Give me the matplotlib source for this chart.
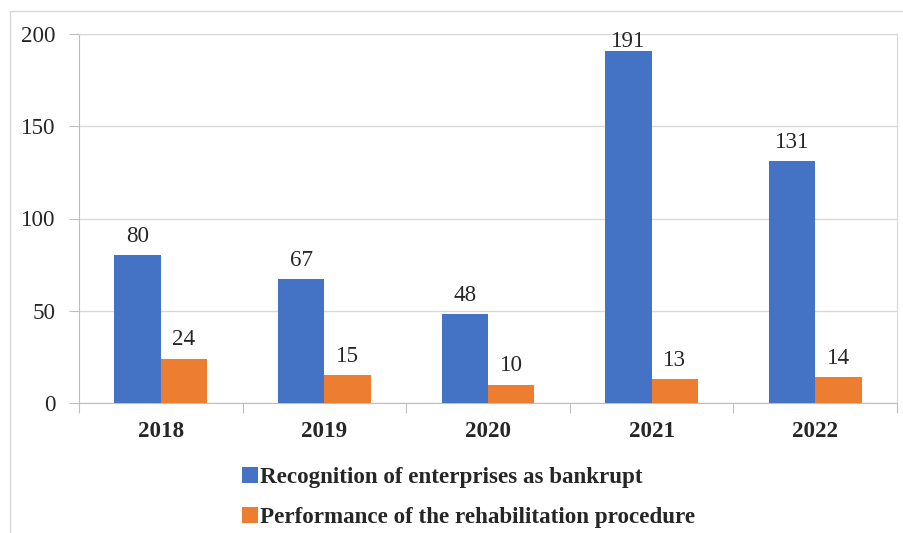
import matplotlib
matplotlib.use("Agg")
import matplotlib.pyplot as plt
from matplotlib.patches import Rectangle
import numpy as np

years = ["2018", "2019", "2020", "2021", "2022"]
bankrupt = [80, 67, 48, 191, 131]
rehab = [24, 15, 10, 13, 14]
labels = ["Recognition of enterprises as bankrupt",
          "Performance of the rehabilitation procedure"]

plt.rcParams['font.family'] = ['Liberation Serif', 'DejaVu Serif']
FS = 16.6

fig = plt.figure(figsize=(9.04, 5.33), dpi=100)
ax = fig.add_axes([79 / 904, 1 - 403 / 533, (897 - 79) / 904, (403 - 34) / 533])

# outer chart frame (cropped at right/bottom in the original)
fig.patches.append(Rectangle((10 / 904, -0.1), 2, 1 - 11 / 533 + 0.1,
                             transform=fig.transFigure, fill=False,
                             edgecolor="#d9d9d9", linewidth=1))

x = np.arange(len(years))
w = 0.284
b1 = ax.bar(x - w / 2, bankrupt, w, color="#4472c4", label=labels[0], zorder=3)
b2 = ax.bar(x + w / 2, rehab, w, color="#ed7d31", label=labels[1], zorder=3)

ymax = 200
for bars in (b1, b2):
    for r in bars:
        v = r.get_height()
        cx = r.get_x() + r.get_width() / 2
        if v > 180:
            # label kept inside the plot area, like Excel does
            ax.annotate(str(int(v)), (cx, ymax), xytext=(0, 2), textcoords="offset points",
                        ha="center", va="top", fontsize=FS, color="#262626", zorder=4)
        else:
            ax.annotate(str(int(v)), (cx, v), xytext=(0, 6), textcoords="offset points",
                        ha="center", va="bottom", fontsize=FS, color="#262626", zorder=4)

ax.set_xlim(-0.5, len(years) - 0.5)
ax.set_ylim(0, ymax)
ax.set_yticks([0, 50, 100, 150, 200])
ax.yaxis.grid(True, color="#d9d9d9", linewidth=1, zorder=0)

ax.set_xticks(np.arange(-0.5, len(years), 1))
ax.set_xticklabels([])
ax.set_xticks(x, minor=True)
ax.set_xticklabels(years, minor=True, fontsize=FS, fontweight="bold", color="#262626")
ax.tick_params(axis="x", which="major", length=7, color="#bfbfbf", direction="out")
ax.tick_params(axis="x", which="minor", length=0, pad=13)
ax.tick_params(axis="y", length=7, color="#bfbfbf", labelsize=FS, labelcolor="#262626", pad=10)

for s in ("left", "bottom"):
    ax.spines[s].set_color("#bfbfbf")
for s in ("top", "right"):
    ax.spines[s].set_color("#d9d9d9")

fig.legend(handles=[b1, b2], loc="upper left", bbox_to_anchor=(233 / 904, 1 - 458 / 533),
           frameon=False, prop={"size": FS, "weight": "bold"},
           handlelength=0.7, handleheight=0.7, handletextpad=0.05,
           labelspacing=0.8, borderaxespad=0, labelcolor="#262626")

plt.savefig("out.png", dpi=100)
